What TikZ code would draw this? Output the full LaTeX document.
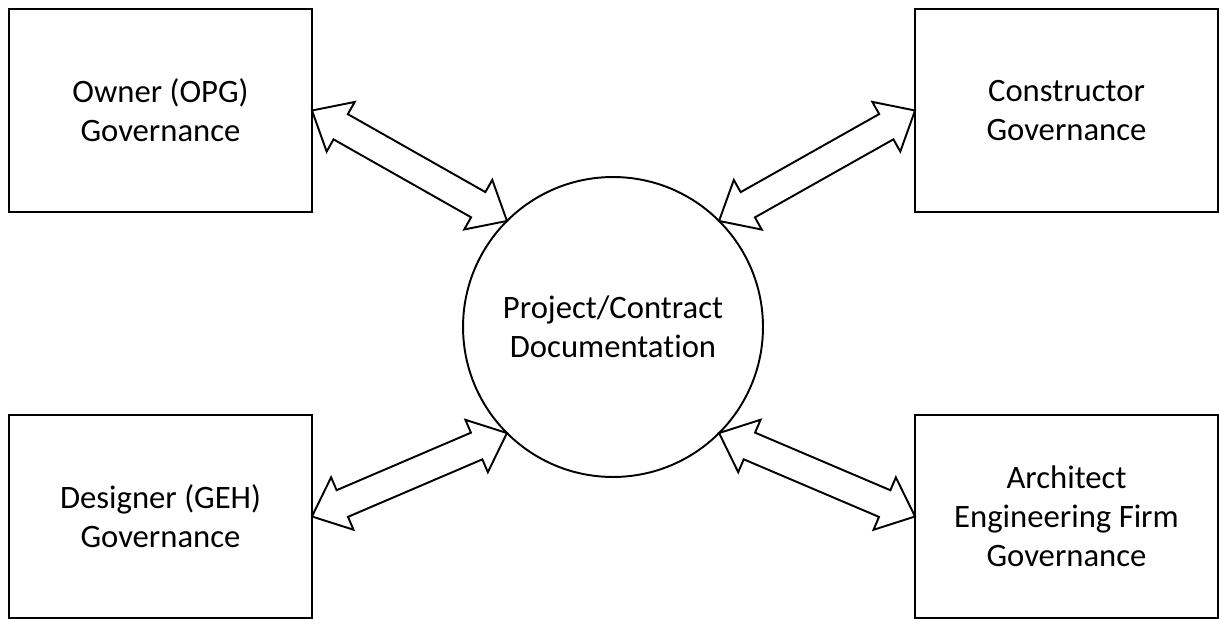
\documentclass[tikz,border=0pt]{standalone}
\usepackage{fontspec}
\setmainfont{Carlito}[Ligatures=NoCommon]
\usetikzlibrary{calc}

% hollow double-headed block arrow between two points
\newcommand{\dblarrow}[2]{%
  \draw[blockarrow] (#1)
    -- ($(#1)!0.66cm!(#2)!0.57cm!90:(#2)$)
    -- ($(#1)!0.66cm!(#2)!0.29cm!90:(#2)$)
    -- ($(#2)!0.66cm!(#1)!0.29cm!-90:(#1)$)
    -- ($(#2)!0.66cm!(#1)!0.57cm!-90:(#1)$)
    -- (#2)
    -- ($(#2)!0.66cm!(#1)!0.57cm!90:(#1)$)
    -- ($(#2)!0.66cm!(#1)!0.29cm!90:(#1)$)
    -- ($(#1)!0.66cm!(#2)!0.29cm!-90:(#2)$)
    -- ($(#1)!0.66cm!(#2)!0.57cm!-90:(#2)$)
    -- cycle;}

\begin{document}
\begin{tikzpicture}[x=0.02cm,y=-0.02cm,
    govbox/.style={draw,line width=1.5pt,minimum width=6.06cm,minimum height=4.06cm,
        inner sep=0pt,outer sep=0pt,align=center,font=\fontsize{18.6}{22.2}\selectfont},
    docbox/.style={draw,circle,line width=1.1pt,minimum size=6cm,
        inner sep=0pt,outer sep=0pt,align=center,font=\fontsize{18.6}{22.2}\selectfont},
    blockarrow/.style={draw,line width=1.1pt,line join=miter}]
    \useasboundingbox (0,0) rectangle (1219,618);

    \node[govbox] (owner) at (160.5,110.5) {Owner (OPG)\\Governance};
    \node[govbox] (constructor) at (1066.5,110.5) {Constructor\\Governance};
    \node[govbox] (designer) at (160.5,516.5) {Designer (GEH)\\Governance};
    \node[govbox] (aefirm) at (1066.5,516.5) {Architect\\Engineering Firm\\Governance};

    \node[docbox] (docs) at (613,327) {Project/Contract\\Documentation};

    \dblarrow{owner.east}{docs.135}
    \dblarrow{constructor.west}{docs.45}
    \dblarrow{designer.east}{docs.225}
    \dblarrow{aefirm.west}{docs.315}

\end{tikzpicture}
\end{document}
